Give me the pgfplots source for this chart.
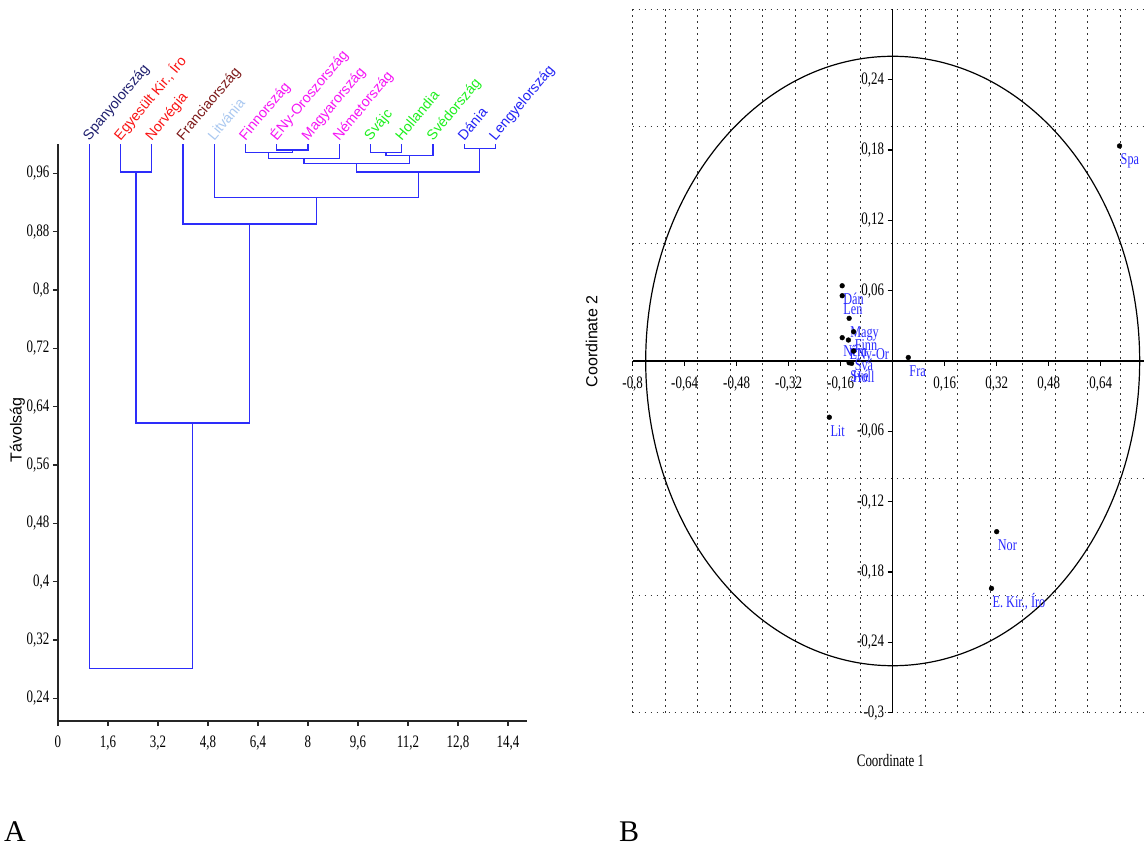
\documentclass[border=0pt]{standalone}
\usepackage{fontspec}
\setmainfont{Liberation Serif}
\newfontfamily\tickfont[FakeStretch=0.74]{Liberation Serif}
\newfontfamily\sansf{Liberation Sans}
\usepackage{pgfplots}
\pgfplotsset{compat=1.18}

\definecolor{dline}{RGB}{45,45,250}
\definecolor{cnavy}{RGB}{30,30,110}
\definecolor{cred}{RGB}{250,20,20}
\definecolor{cmaroon}{RGB}{125,25,25}
\definecolor{clight}{RGB}{170,200,240}
\definecolor{cmag}{RGB}{245,20,245}
\definecolor{cgreen}{RGB}{30,240,30}
\definecolor{cblue}{RGB}{35,35,245}
\definecolor{lblue}{RGB}{40,40,255}

\pgfplotsset{
  dend/.style={dline, line width=1.3pt, mark=none},
}
\tikzset{
  leaf/.style={rotate=50, anchor=base west, inner sep=0pt, font=\sansf\fontsize{14.2}{14.2}\selectfont},
}

\begin{document}
\begin{tikzpicture}[x=1pt,y=1pt]
\useasboundingbox (0,0) rectangle (1144,847);

% ---------------- A: dendrogram ----------------
\begin{axis}[
  at={(57.9pt,126pt)}, anchor=south west,
  scale only axis, width=468.75pt, height=576.9pt,
  xmin=0, xmax=15, ymin=0.2089, ymax=1.0,
  axis lines=left, axis line style={-, line width=1.3pt, black!85},
  xtick={0,1.6,3.2,4.8,6.4,8,9.6,11.2,12.8,14.4},
  xticklabels={0,{1,6},{3,2},{4,8},{6,4},8,{9,6},{11,2},{12,8},{14,4}},
  ytick={0.24,0.32,0.4,0.48,0.56,0.64,0.72,0.8,0.88,0.96},
  yticklabels={{0,24},{0,32},{0,4},{0,48},{0,56},{0,64},{0,72},{0,8},{0,88},{0,96}},
  tick align=outside, major tick length=5pt,
  tick style={line width=1.2pt, black!85},
  ticklabel style={font=\tickfont\fontsize{17.5}{17.5}\selectfont},
  xticklabel style={yshift=-6pt},
  clip=false,
]
\addplot[dend] coordinates {(2,1) (2,0.9617) (3,0.9617) (3,1)};
\addplot[dend] coordinates {(7,1) (7,0.9919) (8,0.9919) (8,1)};
\addplot[dend] coordinates {(6,1) (6,0.9882) (7.5,0.9882) (7.5,0.9919)};
\addplot[dend] coordinates {(6.75,0.9882) (6.75,0.9805) (9,0.9805) (9,1)};
\addplot[dend] coordinates {(10,1) (10,0.9882) (11,0.9882) (11,1)};
\addplot[dend] coordinates {(10.5,0.9882) (10.5,0.9846) (12,0.9846) (12,1)};
\addplot[dend] coordinates {(7.875,0.9805) (7.875,0.9732) (11.25,0.9732) (11.25,0.9846)};
\addplot[dend] coordinates {(13,1) (13,0.9938) (14,0.9938) (14,1)};
\addplot[dend] coordinates {(9.5625,0.9732) (9.5625,0.9617) (13.5,0.9617) (13.5,0.9938)};
\addplot[dend] coordinates {(5,1) (5,0.9265) (11.53125,0.9265) (11.53125,0.9617)};
\addplot[dend] coordinates {(4,1) (4,0.8904) (8.265625,0.8904) (8.265625,0.9265)};
\addplot[dend] coordinates {(2.5,0.9617) (2.5,0.6175) (6.1328,0.6175) (6.1328,0.8904)};
\addplot[dend] coordinates {(1,1) (1,0.2806) (4.3164,0.2806) (4.3164,0.6175)};

\node[leaf, text=cnavy]   at (axis cs:1,1.004)  {Spanyolország};
\node[leaf, text=cred]    at (axis cs:2,1.004)  {Egyesült Kir., Íro};
\node[leaf, text=cred]    at (axis cs:3,1.004)  {Norvégia};
\node[leaf, text=cmaroon] at (axis cs:4,1.004)  {Franciaország};
\node[leaf, text=clight]  at (axis cs:5,1.004)  {Litvánia};
\node[leaf, text=cmag]    at (axis cs:6,1.004)  {Finnország};
\node[leaf, text=cmag]    at (axis cs:7,1.004)  {ÉNy-Oroszország};
\node[leaf, text=cmag]    at (axis cs:8,1.004)  {Magyarország};
\node[leaf, text=cmag]    at (axis cs:9,1.004)  {Németország};
\node[leaf, text=cgreen]  at (axis cs:10,1.004) {Svájc};
\node[leaf, text=cgreen]  at (axis cs:11,1.004) {Hollandia};
\node[leaf, text=cgreen]  at (axis cs:12,1.004) {Svédország};
\node[leaf, text=cblue]   at (axis cs:13,1.004) {Dánia};
\node[leaf, text=cblue]   at (axis cs:14,1.004) {Lengyelország};
\end{axis}

% ---------------- B: ordination scatter ----------------
\begin{axis}[
  at={(632.7pt,134.4pt)}, anchor=south west,
  scale only axis, width=511.3pt, height=703.2pt,
  xmin=-0.8, xmax=0.7733, ymin=-0.3, ymax=0.3,
  axis lines=middle, axis line style={-, line width=1.3pt, black},
  xtick={-0.8,-0.64,-0.48,-0.32,-0.16,0.16,0.32,0.48,0.64},
  xticklabels={{-0,8},{-0,64},{-0,48},{-0,32},{-0,16},{0,16},{0,32},{0,48},{0,64}},
  ytick={-0.3,-0.24,-0.18,-0.12,-0.06,0.06,0.12,0.18,0.24},
  yticklabels={{-0,3},{-0,24},{-0,18},{-0,12},{-0,06},{0,06},{0,12},{0,18},{0,24}},
  minor xtick={-0.8,-0.7,-0.6,-0.5,-0.4,-0.3,-0.2,-0.1,0.1,0.2,0.3,0.4,0.5,0.6,0.7},
  minor ytick={-0.3,-0.2,-0.1,0.1,0.2,0.3},
  xminorgrids=true, yminorgrids=true,
  minor grid style={black!80, line width=1.1pt, dash pattern=on 1.2pt off 4.8pt},
  minor tick length=0pt,
  tick align=outside, major tick length=5pt,
  tick style={line width=1.2pt, black},
  ticklabel style={font=\tickfont\fontsize{17.5}{17.5}\selectfont},
  xticklabel style={yshift=-7pt},
  clip=false,
]
\draw[black, line width=1.2pt] (axis cs:0,0) ellipse [x radius=0.76, y radius=0.26];
\addplot[only marks, mark=*, mark size=2.4pt, black,
  nodes near coords, point meta=explicit symbolic,
  nodes near coords style={anchor=base west, text=lblue, inner sep=0pt,
    xshift=1pt, yshift=-19pt, font=\tickfont\fontsize{16.5}{16.5}\selectfont}]
table[meta=lab, col sep=semicolon, row sep=\\] {
x;y;lab\\
0.698;0.1835;Spa\\
0.048;0.003;Fra\\
-0.195;-0.048;Lit\\
0.320;-0.1456;Nor\\
0.304;-0.194;E. Kir., Íro\\
-0.1554;0.0642;Dán\\
-0.1554;0.0557;Len\\
-0.134;0.0364;Magy\\
-0.1203;0.025;Finn\\
-0.1554;0.0199;Ném\\
-0.1363;0.0179;ÉNy-Or\\
-0.1203;0.0085;Svá\\
-0.134;-0.0015;Své\\
-0.1265;-0.002;Holl\\
};
\end{axis}

% ---------------- free labels ----------------
\node[rotate=90, font=\sansf\fontsize{16}{16}\selectfont] at (17.5,417) {Távolság};
\node[rotate=90, font=\sansf\fontsize{16}{16}\selectfont] at (591.7,505.7) {Coordinate 2};
\node[font=\tickfont\fontsize{17.5}{17.5}\selectfont] at (890.5,86) {Coordinate 1};
\node[anchor=base west, inner sep=0pt, font=\fontsize{30}{30}\selectfont] at (4,6) {A};
\node[anchor=base west, inner sep=0pt, font=\fontsize{30}{30}\selectfont] at (619,6) {B};
\end{tikzpicture}
\end{document}
